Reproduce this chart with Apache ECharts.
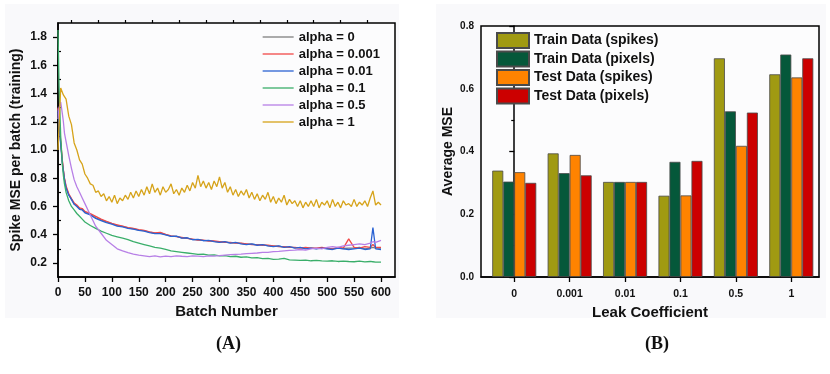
<!DOCTYPE html>
<html>
<head>
<meta charset="utf-8">
<script src="https://cdn.jsdelivr.net/npm/echarts@6.0.0/dist/echarts.min.js"></script>
<style>
  html, body { margin: 0; padding: 0; background: #fff; }
  #chart { width: 830px; height: 374px; }
</style>
</head>
<body>
<div id="chart"></div>
<script>
// ---- panel A: training curves ----
const batches = [0, 2, 5, 8, 10, 12, 15, 20, 25, 30,
  35, 40, 45, 50, 60, 70, 80, 90, 100, 110,
  120, 130, 140, 150, 160, 170, 180, 190, 200, 210,
  220, 230, 240, 250, 260, 270, 280, 290, 300, 310,
  320, 330, 340, 350, 360, 370, 380, 390, 400, 410,
  420, 430, 440, 450, 460, 470, 480, 490, 500, 510,
  520, 530, 540, 550, 560, 570, 580, 585, 590, 600];

const alpha0 = [1.29, 1.19, 1.05, 0.92, 0.855, 0.795, 0.735, 0.685, 0.65, 0.62,
  0.605, 0.585, 0.58, 0.56, 0.545, 0.52, 0.505, 0.49, 0.478, 0.465,
  0.458, 0.448, 0.442, 0.432, 0.428, 0.418, 0.41, 0.412, 0.4, 0.39,
  0.388, 0.378, 0.376, 0.366, 0.364, 0.36, 0.358, 0.352, 0.348, 0.348,
  0.342, 0.342, 0.338, 0.332, 0.332, 0.328, 0.328, 0.322, 0.318, 0.318,
  0.312, 0.312, 0.308, 0.308, 0.305, 0.305, 0.302, 0.308, 0.302, 0.30,
  0.305, 0.302, 0.305, 0.305, 0.31, 0.30, 0.305, 0.31, 0.305, 0.305];

const alpha0001 = [1.30, 1.20, 1.06, 0.93, 0.86, 0.80, 0.745, 0.69, 0.655, 0.625,
  0.61, 0.59, 0.585, 0.565, 0.55, 0.53, 0.51, 0.495, 0.48, 0.47,
  0.46, 0.45, 0.445, 0.435, 0.43, 0.42, 0.412, 0.416, 0.402, 0.392,
  0.386, 0.38, 0.374, 0.368, 0.362, 0.362, 0.355, 0.355, 0.35, 0.345,
  0.345, 0.34, 0.34, 0.335, 0.33, 0.33, 0.325, 0.325, 0.32, 0.315,
  0.315, 0.31, 0.31, 0.305, 0.31, 0.305, 0.305, 0.31, 0.305, 0.30,
  0.31, 0.305, 0.37, 0.31, 0.305, 0.315, 0.31, 0.33, 0.31, 0.31];

const alpha001 = [1.28, 1.18, 1.04, 0.91, 0.85, 0.79, 0.73, 0.68, 0.65, 0.615,
  0.60, 0.58, 0.575, 0.555, 0.54, 0.515, 0.50, 0.485, 0.475, 0.46,
  0.455, 0.445, 0.44, 0.43, 0.425, 0.415, 0.408, 0.408, 0.398, 0.388,
  0.39, 0.376, 0.378, 0.364, 0.367, 0.357, 0.36, 0.35, 0.345, 0.35,
  0.34, 0.345, 0.335, 0.33, 0.335, 0.325, 0.33, 0.32, 0.315, 0.32,
  0.31, 0.315, 0.305, 0.31, 0.30, 0.305, 0.30, 0.305, 0.30, 0.295,
  0.305, 0.30, 0.295, 0.30, 0.305, 0.295, 0.30, 0.45, 0.30, 0.295];

const alpha01 = [1.85, 1.45, 1.10, 0.90, 0.82, 0.76, 0.70, 0.64, 0.60, 0.575,
  0.55, 0.53, 0.51, 0.49, 0.465, 0.445, 0.425, 0.41, 0.395, 0.385,
  0.375, 0.365, 0.35, 0.34, 0.33, 0.32, 0.31, 0.305, 0.295, 0.285,
  0.28, 0.275, 0.27, 0.265, 0.26, 0.262, 0.255, 0.257, 0.25, 0.252,
  0.245, 0.247, 0.24, 0.242, 0.235, 0.237, 0.23, 0.232, 0.225, 0.227,
  0.232, 0.222, 0.22, 0.218, 0.22, 0.215, 0.218, 0.214, 0.212, 0.215,
  0.21, 0.213, 0.21, 0.208, 0.212, 0.207, 0.21, 0.208, 0.206, 0.205];

const alpha05 = [1.22, 1.30, 1.34, 1.26, 1.20, 1.12, 1.06, 0.96, 0.87, 0.79,
  0.74, 0.70, 0.66, 0.62, 0.54, 0.46, 0.41, 0.36, 0.33, 0.30,
  0.285, 0.272, 0.262, 0.255, 0.25, 0.245, 0.25, 0.243, 0.248, 0.245,
  0.25, 0.247, 0.245, 0.25, 0.248, 0.245, 0.25, 0.248, 0.252, 0.255,
  0.258, 0.26, 0.262, 0.265, 0.268, 0.27, 0.275, 0.275, 0.28, 0.282,
  0.285, 0.288, 0.29, 0.295, 0.29, 0.30, 0.305, 0.30, 0.31, 0.315,
  0.31, 0.32, 0.325, 0.33, 0.335, 0.33, 0.34, 0.35, 0.345, 0.36];

const batchesAlpha1 = [0, 5, 10, 15, 20, 25, 30, 35, 40, 45,
  50, 55, 60, 65, 70, 75, 80, 85, 90, 95,
  100, 105, 110, 115, 120, 125, 130, 135, 140, 145,
  150, 155, 160, 165, 170, 175, 180, 185, 190, 195,
  200, 205, 210, 215, 220, 225, 230, 235, 240, 245,
  250, 255, 260, 265, 270, 275, 280, 285, 290, 295,
  300, 305, 310, 315, 320, 325, 330, 335, 340, 345,
  350, 355, 360, 365, 370, 375, 380, 385, 390, 395,
  400, 405, 410, 415, 420, 425, 430, 435, 440, 445,
  450, 455, 460, 465, 470, 475, 480, 485, 490, 495,
  500, 505, 510, 515, 520, 525, 530, 535, 540, 545,
  550, 555, 560, 565, 570, 575, 580, 585, 590, 595,
  600];

const alpha1 = [1.00, 1.44, 1.39, 1.36, 1.24, 1.18, 1.05, 1.00, 0.93, 0.90,
  0.83, 0.80, 0.76, 0.75, 0.70, 0.71, 0.67, 0.69, 0.64, 0.67,
  0.63, 0.68, 0.62, 0.66, 0.64, 0.68, 0.65, 0.70, 0.66, 0.71,
  0.67, 0.72, 0.68, 0.74, 0.69, 0.76, 0.70, 0.73, 0.68, 0.74,
  0.70, 0.72, 0.76, 0.69, 0.72, 0.68, 0.73, 0.70, 0.75, 0.71,
  0.77, 0.73, 0.82, 0.74, 0.78, 0.73, 0.77, 0.72, 0.78, 0.74,
  0.81, 0.73, 0.77, 0.70, 0.74, 0.68, 0.72, 0.67, 0.71, 0.68,
  0.72, 0.66, 0.70, 0.65, 0.69, 0.64, 0.68, 0.65, 0.70, 0.63,
  0.67, 0.62, 0.66, 0.63, 0.68, 0.61, 0.65, 0.62, 0.64, 0.60,
  0.64, 0.59, 0.63, 0.60, 0.64, 0.60, 0.65, 0.59, 0.63, 0.61,
  0.64, 0.59, 0.65, 0.60, 0.63, 0.59, 0.64, 0.61, 0.62, 0.60,
  0.65, 0.60, 0.63, 0.61, 0.64, 0.60, 0.66, 0.71, 0.61, 0.63,
  0.61];

const batchTicks = [0, 50, 100, 150, 200, 250, 300, 350, 400, 450, 500, 550, 600];
const batchMinorTicks = [25, 75, 125, 175, 225, 275, 325, 375, 425, 475, 525, 575];
const mseTicks = [0.2, 0.4, 0.6, 0.8, 1.0, 1.2, 1.4, 1.6, 1.8];
const mseMinorTicks = [0.3, 0.5, 0.7, 0.9, 1.1, 1.3, 1.5, 1.7];

// ---- panel B: average MSE per leak coefficient ----
const leakCoefficients = ['0', '0.001', '0.01', '0.1', '0.5', '1'];
const trainSpikes = [0.339, 0.394, 0.303, 0.259, 0.697, 0.646];
const trainPixels = [0.304, 0.331, 0.303, 0.367, 0.528, 0.709];
const testSpikes = [0.334, 0.389, 0.303, 0.260, 0.418, 0.636];
const testPixels = [0.300, 0.324, 0.303, 0.370, 0.524, 0.697];

const lineNames = ['alpha = 0', 'alpha = 0.001', 'alpha = 0.01', 'alpha = 0.1', 'alpha = 0.5', 'alpha = 1'];
const lineColors = ['#7f7f7f', '#f24848', '#2a62d2', '#3aae6a', '#b77fe6', '#d6a31a'];
const barNames = ['Train Data (spikes)', 'Train Data (pixels)', 'Test Data (spikes)', 'Test Data (pixels)'];
const barColors = ['#a09a12', '#05583a', '#ff8300', '#cc0000'];

const FONT = 'Liberation Sans, Arial, sans-serif';
const INK = '#111';

function pairs(xs, ys) {
  return ys.map((v, i) => [xs[i], v]);
}

const lineData = [
  pairs(batches, alpha0),
  pairs(batches, alpha0001),
  pairs(batches, alpha001),
  pairs(batches, alpha01),
  pairs(batches, alpha05),
  pairs(batchesAlpha1, alpha1)
];
const barData = [trainSpikes, trainPixels, testSpikes, testPixels]
  .map(arr => arr.map((v, i) => [i, v]));

const chart = echarts.init(document.getElementById('chart'), null, {renderer: 'canvas'});

const boldLabel = (size) => ({color: INK, fontFamily: FONT, fontWeight: 'bold', fontSize: size});
const axisLine = {show: true, lineStyle: {color: '#000', width: 1.5}};

const option = {
  animation: false,
  backgroundColor: '#fff',
  graphic: [
    {type: 'rect', left: 5, top: 4, shape: {width: 394, height: 314}, style: {fill: '#f9f9fb'}, z: -10},
    {type: 'rect', left: 436, top: 4, shape: {width: 390, height: 314}, style: {fill: '#f9f9fb'}, z: -10},
    {type: 'text', left: 216, top: 335, style: {text: '(A)', font: 'bold 18px "Liberation Serif", serif', fill: INK}},
    {type: 'text', left: 645, top: 335, style: {text: '(B)', font: 'bold 18px "Liberation Serif", serif', fill: INK}}
  ],
  legend: [
    {
      data: lineNames,
      orient: 'vertical',
      left: 257,
      top: 25,
      itemWidth: 31,
      itemHeight: 14,
      itemGap: 3,
      itemStyle: {opacity: 0},
      lineStyle: {width: 1.3},
      textStyle: {color: INK, fontFamily: FONT, fontWeight: 'bold', fontSize: 13, lineHeight: 14}
    },
    {
      data: barNames,
      orient: 'vertical',
      left: 491,
      top: 27,
      icon: 'rect',
      itemWidth: 32,
      itemHeight: 15,
      itemGap: 1.5,
      textStyle: {color: INK, fontFamily: FONT, fontWeight: 'bold', fontSize: 14, lineHeight: 15}
    }
  ],
  grid: [
    {left: 58, top: 23, width: 337, height: 254, show: true, borderColor: '#000', borderWidth: 1.5, backgroundColor: '#fcfcfd'},
    {left: 481, top: 26, width: 338, height: 251, show: true, borderColor: '#000', borderWidth: 1.5, backgroundColor: '#fcfcfd'}
  ],
  xAxis: [
    {
      gridIndex: 0, type: 'value', min: 0, max: 626,
      axisLine: axisLine,
      axisTick: {show: true, customValues: batchTicks, length: 5, lineStyle: {color: '#000', width: 1.3}},
      axisLabel: Object.assign({customValues: batchTicks, margin: 10}, boldLabel(12)),
      splitLine: {show: false},
      name: 'Batch Number', nameLocation: 'middle', nameGap: 27,
      nameTextStyle: boldLabel(15)
    },
    {
      gridIndex: 0, type: 'value', min: 0, max: 626,
      axisLine: {show: false},
      axisTick: {show: true, customValues: batchMinorTicks, length: 3, lineStyle: {color: '#000', width: 1.2}},
      axisLabel: {show: false},
      splitLine: {show: false}
    },
    {
      gridIndex: 1, type: 'value', min: -0.6, max: 5.5,
      axisLine: axisLine,
      axisTick: {show: true, customValues: [0, 1, 2, 3, 4, 5], length: 5, lineStyle: {color: '#000', width: 1.3}},
      axisLabel: Object.assign({
        customValues: [0, 1, 2, 3, 4, 5], margin: 12,
        formatter: v => leakCoefficients[Math.round(v)]
      }, boldLabel(10.5)),
      splitLine: {show: false},
      name: 'Leak Coefficient', nameLocation: 'middle', nameGap: 27,
      nameTextStyle: boldLabel(15)
    }
  ],
  yAxis: [
    {
      gridIndex: 0, type: 'value', min: 0.1, max: 1.9,
      axisLine: axisLine,
      axisTick: {show: true, customValues: mseTicks, length: 5, lineStyle: {color: '#000', width: 1.3}},
      axisLabel: Object.assign({customValues: mseTicks, margin: 11, formatter: v => v.toFixed(1)}, boldLabel(12)),
      splitLine: {show: false},
      name: 'Spike MSE per batch (training)', nameLocation: 'middle', nameGap: 35,
      nameTextStyle: boldLabel(14)
    },
    {
      gridIndex: 0, type: 'value', min: 0.1, max: 1.9,
      axisLine: {show: false},
      axisTick: {show: true, customValues: mseMinorTicks, length: 3, lineStyle: {color: '#000', width: 1.2}},
      axisLabel: {show: false},
      splitLine: {show: false}
    },
    {
      gridIndex: 1, type: 'value', min: 0, max: 0.8, interval: 0.2,
      axisLine: axisLine,
      axisTick: {show: true, length: 5, lineStyle: {color: '#000', width: 1.3}},
      minorTick: {show: true, splitNumber: 2, length: 3, lineStyle: {color: '#000', width: 1.2}},
      axisLabel: Object.assign({margin: 7, formatter: v => v.toFixed(1)}, boldLabel(10)),
      splitLine: {show: false},
      name: 'Average MSE', nameLocation: 'middle', nameGap: 26,
      nameTextStyle: boldLabel(14)
    }
  ],
  series: lineNames.map((name, k) => ({
    name: name,
    type: 'line',
    xAxisIndex: 0,
    yAxisIndex: 0,
    data: lineData[k],
    symbol: 'none',
    color: lineColors[k],
    lineStyle: {width: 1.3, color: lineColors[k]}
  })).concat(barNames.map((name, k) => ({
    name: name,
    type: 'bar',
    xAxisIndex: 2,
    yAxisIndex: 2,
    data: barData[k],
    barWidth: 11,
    barGap: '0%',
    itemStyle: {color: barColors[k], borderColor: '#4a4a4a', borderWidth: 0.8}
  })))
};

chart.setOption(option);
</script>
</body>
</html>
